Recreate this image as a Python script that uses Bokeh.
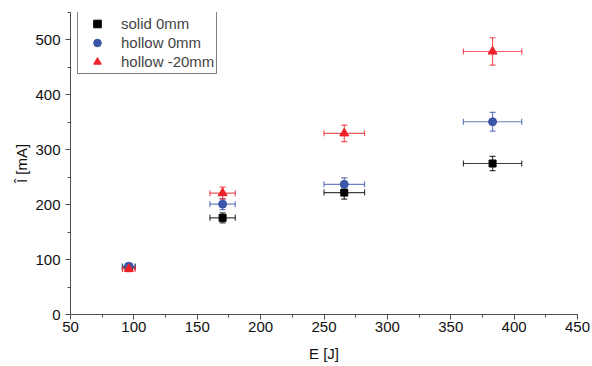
from bokeh.plotting import figure
from bokeh.models import (ColumnDataSource, Whisker, TeeHead, SingleIntervalTicker,
                          Legend, LegendItem, Range1d)
from bokeh.embed import file_html
from bokeh.resources import INLINE

# ---- data ----
energy = [96, 170, 266, 383]
energy_err = [5, 10, 16, 23]
solid_0mm = [86, 176, 222, 275]
solid_0mm_err = [5, 9, 12, 13]
hollow_0mm = [88, 201, 237, 351]
hollow_0mm_err = [5, 10, 12, 17]
hollow_20mm = [83, 221, 330, 479]
hollow_20mm_err = [5, 11, 15, 25]

series = [
    ("solid 0mm", solid_0mm, solid_0mm_err, "#000000", "square", 7),
    ("hollow 0mm", hollow_0mm, hollow_0mm_err, "#3A56A8", "circle", 8),
    ("hollow -20mm", hollow_20mm, hollow_20mm_err, "#EE2229", "triangle", 9),
]

FONT = "Liberation Sans"

p = figure(width=592, height=366, x_range=Range1d(50, 450), y_range=Range1d(0, 550),
           output_backend="svg", toolbar_location=None,
           min_border_left=70, min_border_right=15, min_border_top=12, min_border_bottom=52)
p.outline_line_color = None
p.grid.visible = False
p.background_fill_color = "white"

items = []
for name, vals, errs, color, marker, size in series:
    src = ColumnDataSource(dict(
        x=energy, y=vals,
        xl=[e - d for e, d in zip(energy, energy_err)],
        xu=[e + d for e, d in zip(energy, energy_err)],
        yl=[v - d for v, d in zip(vals, errs)],
        yu=[v + d for v, d in zip(vals, errs)],
    ))
    head = dict(size=6, line_color=color, line_alpha=0.75, line_width=1.2)
    wy = Whisker(source=src, base="x", lower="yl", upper="yu", dimension="height",
                 line_color=color, line_alpha=0.75, line_width=1.2,
                 upper_head=TeeHead(**head), lower_head=TeeHead(**head))
    wx = Whisker(source=src, base="y", lower="xl", upper="xu", dimension="width",
                 line_color=color, line_alpha=0.75, line_width=1.2,
                 upper_head=TeeHead(**head), lower_head=TeeHead(**head))
    p.add_layout(wx)
    p.add_layout(wy)
    r = p.scatter("x", "y", source=src, marker=marker, size=size,
                  fill_color=color, line_color=color)
    items.append(LegendItem(label=name, renderers=[r]))

# axes
for ax, interval in ((p.xaxis[0], 50), (p.yaxis[0], 100)):
    ax.ticker = SingleIntervalTicker(interval=interval, num_minor_ticks=2)
    ax.axis_line_color = "#4d4d4d"
    ax.major_tick_line_color = "#4d4d4d"
    ax.minor_tick_line_color = "#4d4d4d"
    ax.major_tick_out = 5
    ax.major_tick_in = 0
    ax.minor_tick_out = 3
    ax.minor_tick_in = 0
    ax.major_label_text_font = FONT
    ax.major_label_text_font_size = "15px"
    ax.major_label_text_color = "#111111"
    ax.axis_label_text_font = FONT
    ax.axis_label_text_font_size = "15px"
    ax.axis_label_text_font_style = "normal"
    ax.axis_label_text_color = "#111111"

p.xaxis.axis_label = "E [J]"
p.yaxis.axis_label = "Î [mA]"
p.xaxis.major_label_standoff = 2
p.yaxis.major_label_standoff = 5
p.xaxis.axis_label_standoff = 10
p.yaxis.axis_label_standoff = 2

legend = Legend(items=items, location=(7, 240))
legend.border_line_color = "#000000"
legend.border_line_width = 1
legend.background_fill_alpha = 1
legend.label_text_font = FONT
legend.label_text_font_size = "15px"
legend.label_height = 19
legend.glyph_height = 19
legend.glyph_width = 34
legend.label_standoff = 7
legend.spacing = 0
legend.padding = 2
legend.margin = 0
p.add_layout(legend)

open("out.html", "w").write(file_html(p, INLINE))
